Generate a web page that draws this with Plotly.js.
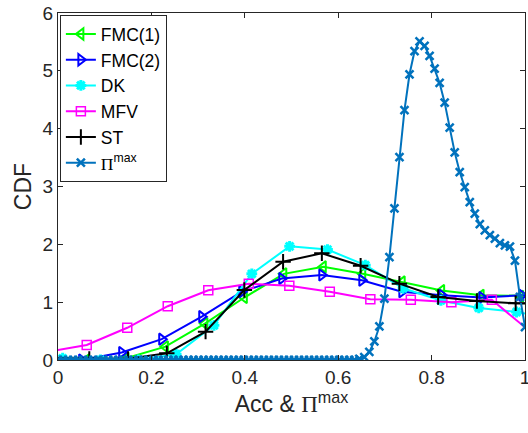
<!DOCTYPE html>
<html>
<head>
<meta charset="utf-8">
<script src="https://cdn.plot.ly/plotly-3.0.1.min.js"></script>
<style>
  html, body { margin: 0; padding: 0; background: #fff; }
  #chart { width: 528px; height: 433px; }
</style>
</head>
<body>
<div id="chart"></div>
<script>
// ---- data ----
const fmc1X = [-0.0235, 0.061, 0.1455, 0.23, 0.3145, 0.399, 0.4835, 0.568, 0.6525, 0.737, 0.8215, 0.906, 0.9905, 1.075];
const fmc1Y = [0.02, 0.0, 0.03, 0.23, 0.63, 1.08, 1.49, 1.61, 1.49, 1.35, 1.2, 1.12, 1.1, 1.1];

const fmc2X = [-0.035, 0.0507, 0.1364, 0.2221, 0.3078, 0.3935, 0.4792, 0.5649, 0.6506, 0.7363, 0.822, 0.9077, 0.9934, 1.079];
const fmc2Y = [0.02, 0.0, 0.13, 0.36, 0.75, 1.18, 1.41, 1.47, 1.38, 1.18, 1.12, 1.08, 1.12, 1.1];

const dkX = [0.01, 0.091, 0.172, 0.253, 0.334, 0.415, 0.496, 0.577, 0.658, 0.739, 0.82, 0.901, 0.982, 1.063];
const dkY = [0.03, 0.0, 0.0, 0.1, 0.6, 1.49, 1.965, 1.91, 1.64, 1.24, 1.03, 0.9, 0.83, 0.72];

const mfvX = [-0.0253, 0.0615, 0.1483, 0.235, 0.3218, 0.4085, 0.4953, 0.582, 0.6688, 0.7555, 0.8423, 0.929, 1.0158];
const mfvY = [0.135, 0.26, 0.557, 0.93, 1.207, 1.32, 1.285, 1.18, 1.05, 1.04, 1.0, 1.04, 0.46];

const stX = [-0.016, 0.067, 0.15, 0.233, 0.316, 0.399, 0.482, 0.565, 0.648, 0.731, 0.814, 0.897, 0.98, 1.063];
const stY = [0.03, 0.02, 0.02, 0.115, 0.49, 1.21, 1.70, 1.845, 1.63, 1.32, 1.09, 1.02, 0.98, 0.97];

// Pi^max density, sampled on a uniform grid over [0, 1]
const piY = [
  0,0,0,0,0,0,0,0,0,0,
  0,0,0,0,0,0,0,0,0,0,
  0,0,0,0,0,0,0,0,0,0,
  0,0,0,0,0,0,0,0,0,0,
  0,0,0,0,0,0,0,0,0,0,
  0,0,0,0,0,0,0,0,0,0,
  0.02, 0.05, 0.14, 0.32, 0.58, 1.06, 1.78, 2.62, 3.51, 4.32,
  4.94, 5.34, 5.51, 5.43, 5.26, 5.04, 4.79, 4.45, 4.02, 3.59,
  3.25, 2.99, 2.73, 2.53, 2.35, 2.24, 2.16, 2.10, 2.02, 1.98,
  1.96, 1.72, 1.09, 0.57
];
const piX = piY.map((_, i) => i / (piY.length - 1));

const names = ['FMC(1)', 'FMC(2)', 'DK', 'MFV', 'ST',
  '<span style="font-family:\'Liberation Serif\',\'Times New Roman\',serif">\u03A0</span><sup>max</sup>'];

const xTicks = [0, 0.2, 0.4, 0.6, 0.8, 1];
const xTickText = ['0', '0.2', '0.4', '0.6', '0.8', '1'];
const yTicks = [0, 1, 2, 3, 4, 5, 6];

function tr(x, y, name, color, symbol, size, mlw) {
  return {
    x: x, y: y, name: name, type: 'scatter', mode: 'lines+markers',
    line: { color: color, width: 2 },
    marker: { symbol: symbol, size: size, color: color, line: { color: color, width: mlw } },
    cliponaxis: true
  };
}

const data = [
  tr(fmc1X, fmc1Y, names[0], '#00FF00', 'triangle-left-open', 10, 2),
  tr(fmc2X, fmc2Y, names[1], '#0000FF', 'triangle-right-open', 10, 2),
  tr(dkX, dkY, names[2], '#00FFFF', 'asterisk-open', 9, 3),
  tr(mfvX, mfvY, names[3], '#FF00FF', 'square-open', 9, 1.5),
  tr(stX, stY, names[4], '#000000', 'cross-thin-open', 11, 2),
  tr(piX, piY, names[5], '#0072BD', 'x-thin-open', 8, 2.5)
];

const axisCommon = {
  showgrid: false, zeroline: false,
  showline: true, linecolor: '#262626', linewidth: 1,
  mirror: 'ticks', ticks: 'inside', ticklen: 5, tickwidth: 1, tickcolor: '#262626',
  ticklabeloverflow: 'allow',
  tickfont: { family: 'Liberation Sans, Arial, sans-serif', size: 19, color: '#262626' }
};

const layout = {
  width: 528, height: 433,
  margin: { l: 58, r: 3, t: 13, b: 73 },
  paper_bgcolor: '#ffffff', plot_bgcolor: '#ffffff',
  font: { family: 'Liberation Sans, Arial, sans-serif', color: '#262626' },
  showlegend: true,
  xaxis: Object.assign({}, axisCommon, {
    range: [0, 1], tickvals: xTicks, ticktext: xTickText,
    title: { text: 'Acc &amp; <span style="font-family:\'Liberation Serif\',\'Times New Roman\',serif">\u03A0</span><sup>max</sup>',
             font: { size: 23, color: '#262626' }, standoff: 8 }
  }),
  yaxis: Object.assign({}, axisCommon, {
    range: [0, 6], tickvals: yTicks,
    title: { text: 'CDF', font: { size: 23, color: '#262626' }, standoff: 4 }
  }),
  legend: {
    x: 0.004, y: 0.994, xanchor: 'left', yanchor: 'top',
    bgcolor: '#ffffff', bordercolor: '#262626', borderwidth: 1,
    font: { family: 'Liberation Sans, Arial, sans-serif', size: 17.5, color: '#000000' },
    tracegroupgap: 0, itemwidth: 30
  }
};

Plotly.newPlot('chart', data, layout, { displayModeBar: false, staticPlot: true });
</script>
</body>
</html>
